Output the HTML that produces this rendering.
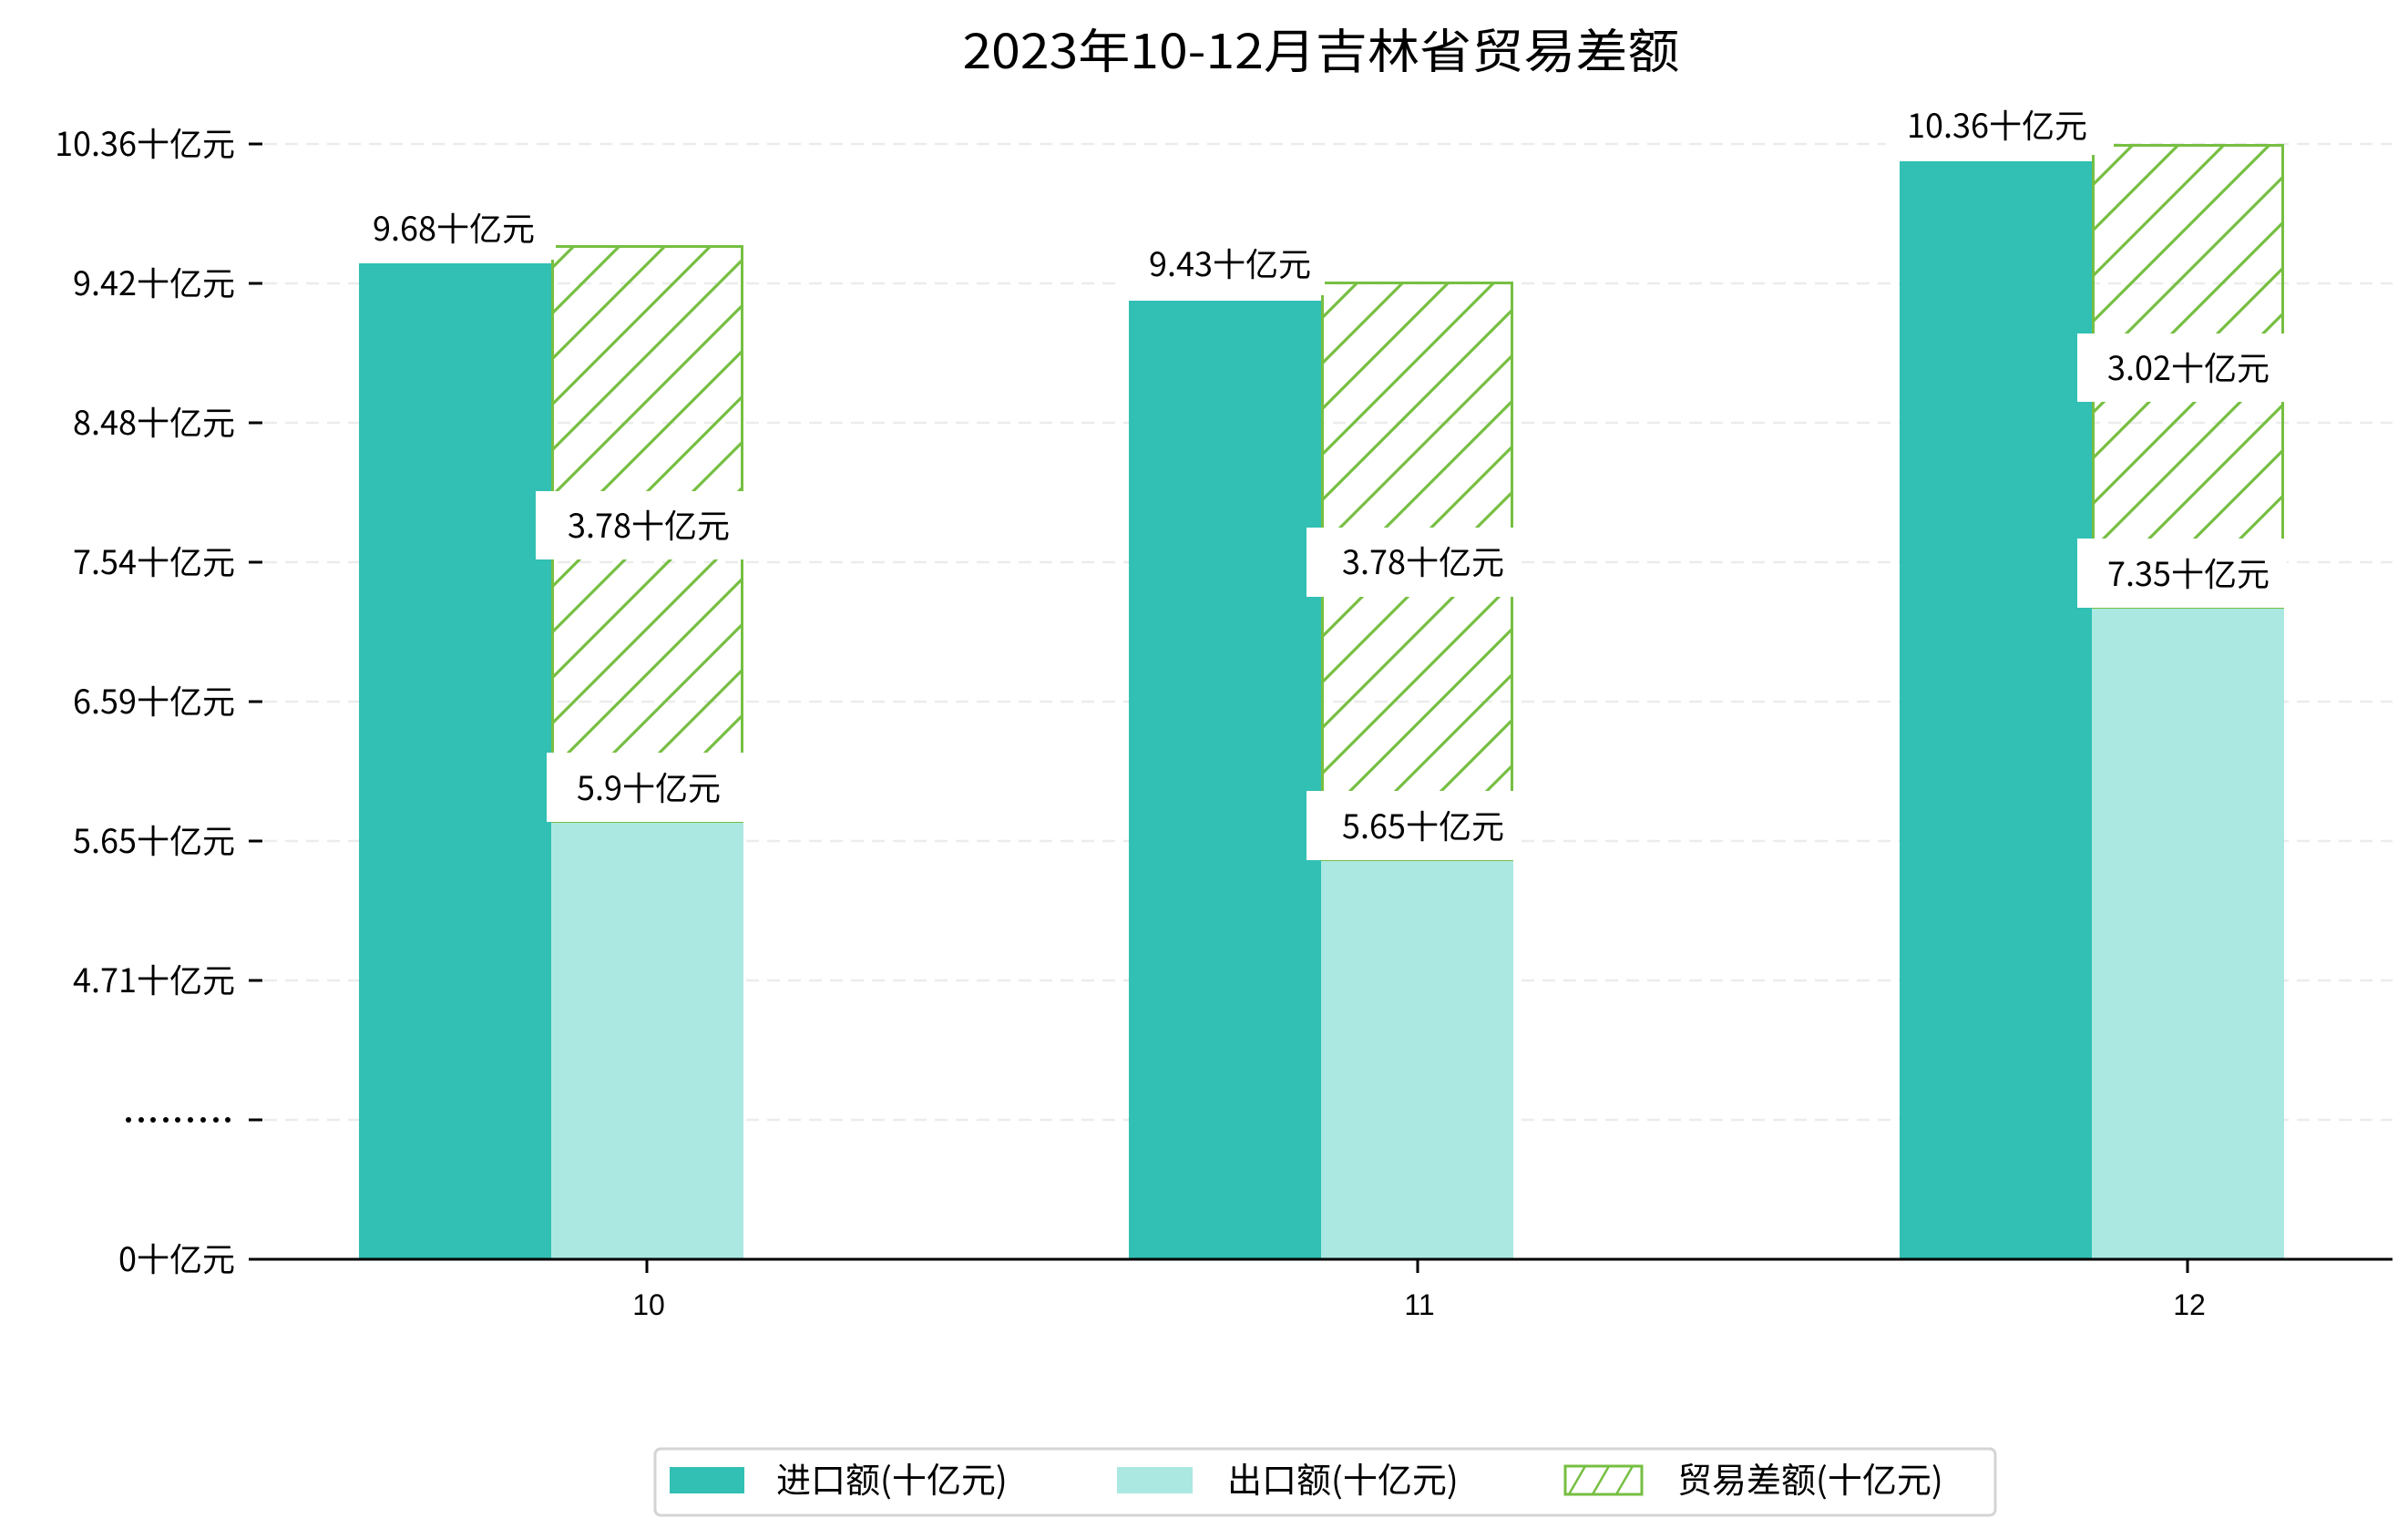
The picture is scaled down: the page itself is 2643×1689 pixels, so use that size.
<!DOCTYPE html>
<html><head><meta charset="utf-8"><style>
html,body{margin:0;padding:0;background:#fff;}
svg{display:block;}
text{font-family:"Liberation Sans","Noto Sans CJK SC",sans-serif;fill:#000;}
.cj{font-family:"Noto Sans CJK SC","WenQuanYi Zen Hei",sans-serif;}
</style></head><body>
<svg width="2643" height="1689" viewBox="0 0 2643 1689" xmlns="http://www.w3.org/2000/svg">
<defs>
<pattern id="h" patternUnits="userSpaceOnUse" width="50" height="50">
<path d="M-5,55 L55,-5 M-30,30 L30,-30 M20,80 L80,20" stroke="#76bf42" stroke-width="3.2"/>
</pattern>
</defs>
<rect width="2643" height="1689" fill="#fff"/>
<text class="cj" x="1450" y="75" font-size="52" text-anchor="middle" textLength="787" lengthAdjust="spacingAndGlyphs">2023年10-12月吉林省贸易差额</text>

<g stroke="#ececec" stroke-width="2.5" stroke-dasharray="14,9">
<line x1="290" y1="158" x2="2626" y2="158"/>
<line x1="290" y1="311" x2="2626" y2="311"/>
<line x1="290" y1="464" x2="2626" y2="464"/>
<line x1="290" y1="617" x2="2626" y2="617"/>
<line x1="290" y1="770" x2="2626" y2="770"/>
<line x1="290" y1="923" x2="2626" y2="923"/>
<line x1="290" y1="1076" x2="2626" y2="1076"/>
<line x1="290" y1="1229" x2="2626" y2="1229"/>
</g>

<rect x="394" y="289" width="211" height="1093" fill="#31c0b3"/>
<rect x="605" y="902" width="211" height="480" fill="#abe8e2"/>
<rect x="606.5" y="270.5" width="208" height="631" fill="url(#h)" stroke="#76bf42" stroke-width="3"/>

<rect x="1239" y="330" width="211" height="1052" fill="#31c0b3"/>
<rect x="1450" y="944" width="211" height="438" fill="#abe8e2"/>
<rect x="1451.5" y="310.5" width="208" height="633" fill="url(#h)" stroke="#76bf42" stroke-width="3"/>

<rect x="2085" y="177" width="211" height="1205" fill="#31c0b3"/>
<rect x="2296" y="667" width="211" height="715" fill="#abe8e2"/>
<rect x="2297.5" y="159.5" width="208" height="507" fill="url(#h)" stroke="#76bf42" stroke-width="3"/>

<g font-size="36" text-anchor="middle" class="cj">
<rect x="380" y="225" width="230" height="60" fill="#fff"/>
<text class="cj" x="498" y="264">9.68十亿元</text>
<rect x="588" y="539" width="230" height="75" fill="#fff"/>
<text class="cj" x="712" y="590">3.78十亿元</text>
<rect x="600" y="826" width="218" height="76" fill="#fff"/>
<text class="cj" x="712" y="878">5.9十亿元</text>

<rect x="1232" y="262" width="222" height="62" fill="#fff"/>
<text class="cj" x="1350" y="303">9.43十亿元</text>
<rect x="1434" y="579" width="230" height="76" fill="#fff"/>
<text class="cj" x="1562" y="630">3.78十亿元</text>
<rect x="1434" y="868" width="230" height="76" fill="#fff"/>
<text class="cj" x="1562" y="920">5.65十亿元</text>

<rect x="2070" y="110" width="250" height="60" fill="#fff"/>
<text class="cj" x="2192" y="151">10.36十亿元</text>
<rect x="2280" y="366" width="230" height="75" fill="#fff"/>
<text class="cj" x="2402" y="417">3.02十亿元</text>
<rect x="2280" y="591" width="230" height="76" fill="#fff"/>
<text class="cj" x="2402" y="643">7.35十亿元</text>
</g>

<g stroke="#000" stroke-width="3">
<line x1="273" y1="158" x2="288" y2="158"/>
<line x1="273" y1="311" x2="288" y2="311"/>
<line x1="273" y1="464" x2="288" y2="464"/>
<line x1="273" y1="617" x2="288" y2="617"/>
<line x1="273" y1="770" x2="288" y2="770"/>
<line x1="273" y1="923" x2="288" y2="923"/>
<line x1="273" y1="1076" x2="288" y2="1076"/>
<line x1="273" y1="1229" x2="288" y2="1229"/>
<line x1="273" y1="1382" x2="2626" y2="1382"/>
<line x1="710" y1="1382" x2="710" y2="1397"/>
<line x1="1556" y1="1382" x2="1556" y2="1397"/>
<line x1="2401" y1="1382" x2="2401" y2="1397"/>
</g>
<g font-size="36" text-anchor="end" class="cj">
<text class="cj" x="258" y="171">10.36十亿元</text>
<text class="cj" x="258" y="324">9.42十亿元</text>
<text class="cj" x="258" y="477">8.48十亿元</text>
<text class="cj" x="258" y="630">7.54十亿元</text>
<text class="cj" x="258" y="783">6.59十亿元</text>
<text class="cj" x="258" y="936">5.65十亿元</text>
<text class="cj" x="258" y="1089">4.71十亿元</text>
<text class="cj" x="258" y="1395">0十亿元</text>
</g>
<g fill="#000">
<circle cx="141" cy="1229" r="3"/><circle cx="155" cy="1229" r="3"/><circle cx="168" cy="1229" r="3"/><circle cx="182" cy="1229" r="3"/><circle cx="195" cy="1229" r="3"/><circle cx="209" cy="1229" r="3"/><circle cx="223" cy="1229" r="3"/><circle cx="237" cy="1229" r="3"/><circle cx="250" cy="1229" r="3"/>
</g>
<g font-size="32" text-anchor="middle">
<text x="712" y="1443">10</text>
<text x="1558" y="1443">11</text>
<text x="2403" y="1443">12</text>
</g>

<rect x="719" y="1590" width="1471" height="73" rx="6" fill="#fff" stroke="#d4d4d4" stroke-width="3"/>
<rect x="735" y="1610" width="82" height="29" fill="#31c0b3"/>
<rect x="1226" y="1610" width="83" height="29" fill="#abe8e2"/>
<rect x="1718" y="1609" width="84" height="31" fill="#fff" stroke="#76bf42" stroke-width="3"/>
<path d="M1722,1640 L1740,1609 M1748,1640 L1766,1609 M1774,1640 L1792,1609" stroke="#76bf42" stroke-width="2.5"/>
<g font-size="38" class="cj">
<text class="cj" x="852" y="1638">进口额(十亿元)</text>
<text class="cj" x="1347" y="1638">出口额(十亿元)</text>
<text class="cj" x="1841" y="1638">贸易差额(十亿元)</text>
</g>
</svg>
</body></html>
